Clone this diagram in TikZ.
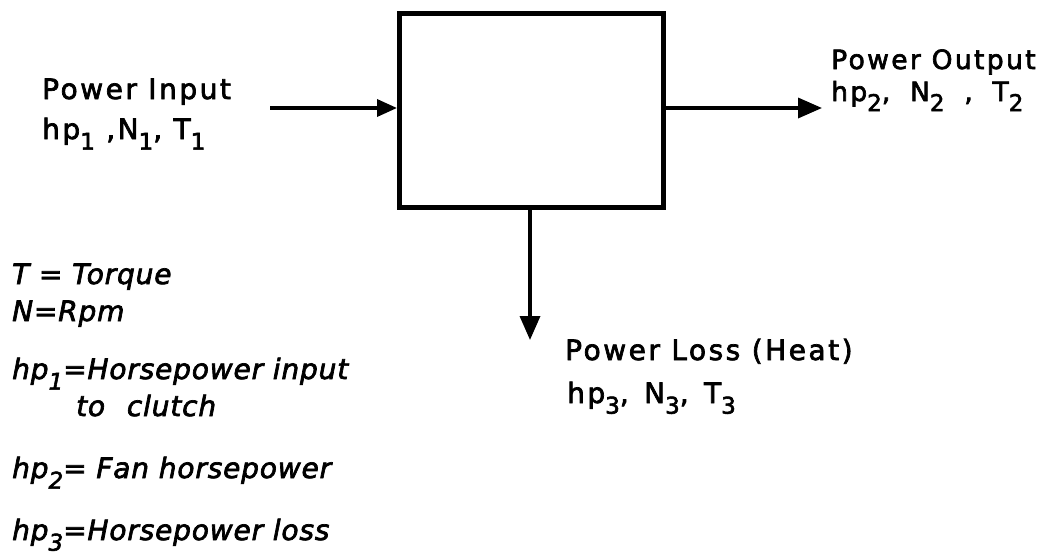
\documentclass[tikz,border=0pt]{standalone}
\usepackage{fontspec}
\setmainfont{DejaVu Sans}[LetterSpace=9, FakeBold=2.5]
\newfontfamily\legfont{DejaVu Sans}[LetterSpace=3, FakeBold=2.5, UprightFont=*-Oblique]
\usetikzlibrary{arrows.meta}
\newcommand\lsub[1]{\raisebox{-0.38em}{\fontsize{23}{23}\selectfont #1}}
\tikzset{
  lbl/.style={anchor=base west, inner sep=0pt, font=\fontsize{28}{32}\selectfont},
  lbls/.style={anchor=base west, inner sep=0pt, font=\fontsize{26.5}{30}\selectfont},
  leg/.style={anchor=base west, inner sep=0pt, font=\fontsize{28}{32}\legfont},
  flow/.style={line width=3.5pt, -{Triangle[length=24pt,width=20pt]}},
  inflow/.style={line width=3.5pt, -{Triangle[length=20pt,width=17pt]}},
  blk/.style={draw, line width=5pt, rectangle, minimum width=264pt, minimum height=194pt, inner sep=0pt}
}
\begin{document}
\begin{tikzpicture}[x=1pt,y=-1pt]
\useasboundingbox (0,0) rectangle (1041,557);
\node[blk] (box) at (531.5,110.5) {};
\coordinate (inStart) at (270,108);
\coordinate (outEnd) at (822,108);
\coordinate (lossEnd) at (530,340);
\draw[inflow] (inStart) -- (inStart -| box.west);
\draw[flow] (box.east |- outEnd) -- (outEnd);
\draw[flow] (box.south -| lossEnd) -- (lossEnd);

\node[lbl] (pin) at (42,99) {Power Input};
\node[lbl] (pinv) at (42,139) {hp\lsub{1} ,N\lsub{1}, T\lsub{1}};
\node[lbls] (pout) at (831,69) {Power Output};
\node[lbls] (poutv) at (831,101) {hp\lsub{2}, \hspace{9pt}N\lsub{2} \hspace{9pt}, \hspace{9pt}T\lsub{2}};
\node[lbl] (ploss) at (565,360) {Power Loss (Heat)};
\node[lbl] (plossv) at (567,403) {hp\lsub{3},\hspace{4pt} N\lsub{3},\hspace{4pt} T\lsub{3}};

\node[leg] (l1) at (12,284) {T = Torque};
\node[leg] (l2) at (12,321) {N=Rpm};
\node[leg] (l3) at (12,379) {hp\lsub{1}=Horsepower input};
\node[leg] (l4) at (76,416) {to\hspace{12pt} clutch};
\node[leg] (l5) at (12,478) {hp\lsub{2}= Fan horsepower};
\node[leg] (l6) at (12,540) {hp\lsub{3}=Horsepower loss};
\end{tikzpicture}
\end{document}
